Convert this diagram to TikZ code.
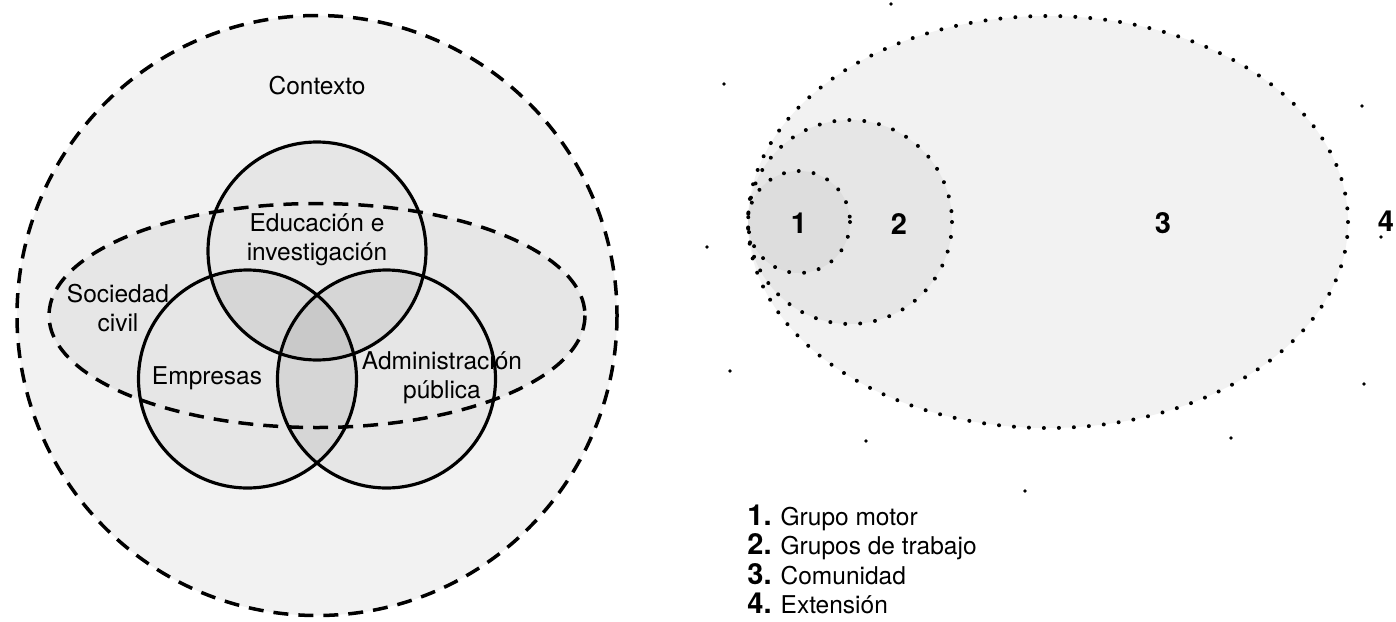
\documentclass[tikz,border=0pt]{standalone}
\usepackage{fontspec}
\setmainfont{TeX Gyre Heros}
\definecolor{bgA}{HTML}{F2F2F2}
\definecolor{bgB}{HTML}{E6E6E6}
\definecolor{bgC}{HTML}{D6D6D6}
\definecolor{bgD}{HTML}{C9C9C9}
\definecolor{bgE}{HTML}{DDDDDD}
\tikzset{
  dashline/.style={line width=1.75pt, dash pattern=on 7.5pt off 5pt},
  solidline/.style={line width=1.6pt},
  dotline/.style={line width=2pt, line cap=round, dash pattern=on 0pt off 7.5pt},
  shade white/.style={white, shift={(-6,-6)}},
  lbl/.style={font=\fontsize{12.25}{14.5}\selectfont, align=center, inner sep=0pt},
  num/.style={font=\fontsize{14.5}{16}\selectfont\bfseries, inner sep=0pt},
  leg/.style={font=\fontsize{12.25}{14.5}\selectfont, inner sep=0pt, anchor=base west},
  spot/.style={fill=black}
}
\begin{document}
\begin{tikzpicture}[x=0.5pt,y=-0.5pt]
\useasboundingbox (0,0) rectangle (1396,621);
% centres
\coordinate (C) at (317,315.5);
\coordinate (E) at (317,251);
\coordinate (M) at (247.5,379);
\coordinate (A) at (386.5,379);
% fills
\fill[bgA] (C) circle (300);
\fill[bgB] (C) ellipse (268 and 112);
\fill[bgB] (E) circle (109);
\fill[bgB] (M) circle (109);
\fill[bgB] (A) circle (109);
\begin{scope}
  \clip (E) circle (109);
  \fill[bgC] (M) circle (109);
  \fill[bgC] (A) circle (109);
\end{scope}
\begin{scope}
  \clip (M) circle (109);
  \fill[bgC] (A) circle (109);
\end{scope}
\begin{scope}
  \clip (E) circle (109);
  \clip (M) circle (109);
  \fill[bgD] (A) circle (109);
\end{scope}
% white offset strokes
\draw[dashline, shade white] (C) circle (300);
\draw[dashline, shade white] (C) ellipse (268 and 112);
\draw[solidline, shade white] (E) circle (109);
\draw[solidline, shade white] (M) circle (109);
\draw[solidline, shade white] (A) circle (109);
% black strokes
\draw[dashline] (C) circle (300);
\draw[dashline] (C) ellipse (268 and 112);
\draw[solidline] (E) circle (109);
\draw[solidline] (M) circle (109);
\draw[solidline] (A) circle (109);
% labels
\node[lbl] (contexto) at (317,86) {Contexto};
\node[lbl] (edu) at (317,240) {Educación e\\investigación};
\node[lbl] (soc) at (118,308) {Sociedad\\civil};
\node[lbl] (emp) at (207,378) {Empresas};
\node[lbl] (adm) at (442,378) {Administración\\pública};

% right diagram
\coordinate (R3) at (1048,222);
\coordinate (R2) at (850,222);
\coordinate (R1) at (799,222);
\fill[bgA] (R3) ellipse (300 and 206);
\fill[bgB] (R2) circle (102);
\fill[bgE] (R1) circle (51);
\draw[dotline, shade white] (R3) ellipse (300 and 206);
\draw[dotline, shade white] (R2) circle (102);
\draw[dotline, shade white] (R1) circle (51);
\draw[dotline] (R3) ellipse (300 and 206);
\draw[dotline] (R2) circle (102);
\draw[dotline] (R1) circle (51);
\node[num] (n1) at (799,223.5) {1};
\node[num] (n2) at (899,223.5) {2};
\node[num] (n3) at (1163,223.5) {3};
\node[num] (n4) at (1386,221) {4};
% scattered extension dots
\foreach \p in {(891,4),(724,84),(1362,106),(707,247),(1381,237),(730,371),(1364,384),(866,441),(1231,438),(1025,491)}
  \fill[spot] \p circle (1.9);
% legend
\node[leg] (l1) at (747,525) {{\fontsize{14.5}{16}\selectfont\bfseries 1.} Grupo motor};
\node[leg] (l2) at (747,554.5) {{\fontsize{14.5}{16}\selectfont\bfseries 2.} Grupos de trabajo};
\node[leg] (l3) at (747,584) {{\fontsize{14.5}{16}\selectfont\bfseries 3.} Comunidad};
\node[leg] (l4) at (747,613.5) {{\fontsize{14.5}{16}\selectfont\bfseries 4.} Extensión};
\end{tikzpicture}
\end{document}
